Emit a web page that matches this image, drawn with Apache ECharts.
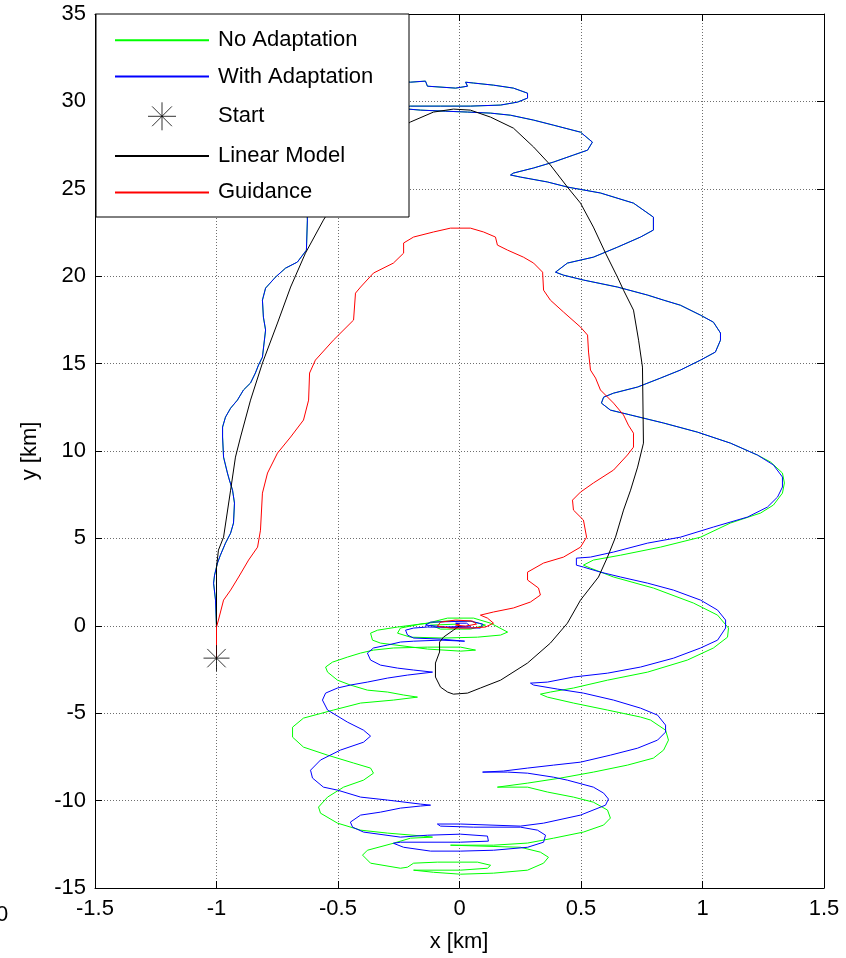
<!DOCTYPE html>
<html><head><meta charset="utf-8">
<script src="https://cdn.jsdelivr.net/npm/echarts@6/dist/echarts.min.js"></script>
<style>html,body{margin:0;padding:0;background:#fff}#c{width:846px;height:958px}</style>
</head><body><div id="c"></div>
<script>
const xTicks = [-1.5, -1, -0.5, 0, 0.5, 1, 1.5];
const yTicks = [-15, -10, -5, 0, 5, 10, 15, 20, 25, 30, 35];
const legendNames = ['No Adaptation', 'With Adaptation', 'Start', 'Linear Model', 'Guidance'];
const xLabel = 'x [km]';
const yLabel = 'y [km]';

const startPoint = [[-1.0, -1.85]];

// path common to both adaptive / non-adaptive runs (green hidden under blue)
const sharedPath = [[-1.000,-1.85],[-1.000,-0.07],[-1.004,1.47],[-1.012,2.44],[-1.008,2.90],[-0.996,3.59],[-0.984,4.04],[-0.963,4.73],[-0.942,5.30],[-0.930,5.88],[-0.926,7.02],[-0.934,7.76],[-0.947,8.34],[-0.955,8.74],[-0.971,9.65],[-0.975,10.80],[-0.975,11.37],[-0.963,11.94],[-0.942,12.45],[-0.914,12.91],[-0.889,13.49],[-0.860,13.89],[-0.840,14.46],[-0.827,14.92],[-0.811,15.37],[-0.798,16.92],[-0.807,17.66],[-0.811,18.63],[-0.798,19.32],[-0.757,19.95],[-0.716,20.46],[-0.667,20.81],[-0.630,21.49],[-0.626,23.21],[-0.630,24.92],[-0.605,27.21],[-0.531,29.50],[-0.407,30.76],[-0.284,31.22],[-0.202,31.10],[-0.140,31.16],[-0.132,30.87],[-0.016,30.76],[0.033,30.87],[0.025,31.10],[0.058,31.05],[0.140,30.93],[0.222,30.76],[0.280,30.47],[0.280,30.19],[0.239,29.96],[0.169,29.79],[0.045,29.73],[-0.078,29.73],[-0.202,29.73],[-0.263,29.62],[-0.160,29.50],[-0.058,29.44],[0.033,29.39],[0.128,29.33],[0.210,29.21],[0.305,28.93],[0.387,28.64],[0.498,28.24],[0.547,27.67],[0.527,27.21],[0.469,26.93],[0.387,26.53],[0.305,26.19],[0.222,25.90],[0.210,25.79],[0.251,25.67],[0.362,25.39],[0.444,25.10],[0.580,24.76],[0.716,24.18],[0.798,23.38],[0.798,22.64],[0.745,22.24],[0.650,21.66],[0.551,21.09],[0.444,20.75],[0.395,20.23],[0.428,20.06],[0.510,19.78],[0.650,19.38],[0.774,18.92],[0.840,18.63],[0.909,18.34],[0.992,17.77],[1.045,17.37],[1.074,16.75],[1.074,16.34],[1.053,15.66],[0.992,15.20],[0.909,14.63],[0.827,14.17],[0.733,13.66],[0.634,13.31],[0.593,13.08],[0.584,12.74],[0.621,12.34],[0.704,12.06],[0.840,11.60],[0.979,11.08],[1.115,10.45],[1.226,9.77]];

const withAdaptationTail = [[1.292,9.20],[1.329,8.51],[1.329,7.94],[1.309,7.37],[1.267,6.79],[1.185,6.22],[1.045,5.65],[0.909,5.07],[0.774,4.73],[0.634,4.22],[0.539,3.93],[0.481,3.87],[0.481,3.47],[0.510,3.36],[0.580,3.07],[0.663,2.79],[0.774,2.44],[0.881,2.04],[0.992,1.47],[1.062,0.90],[1.095,0.33],[1.095,-0.13],[1.062,-0.82],[0.992,-1.27],[0.881,-1.85],[0.745,-2.36],[0.609,-2.71],[0.469,-2.93],[0.362,-3.22],[0.292,-3.28],[0.305,-3.39],[0.403,-3.62],[0.510,-3.85],[0.634,-4.25],[0.745,-4.71],[0.815,-5.11],[0.848,-5.68],[0.848,-6.08],[0.815,-6.54],[0.733,-7.00],[0.621,-7.40],[0.498,-7.80],[0.387,-7.97],[0.280,-8.14],[0.181,-8.31],[0.095,-8.37],[0.198,-8.37],[0.280,-8.43],[0.387,-8.66],[0.444,-8.83],[0.551,-9.23],[0.593,-9.57],[0.613,-9.91],[0.601,-10.26],[0.498,-10.83],[0.346,-11.29],[0.251,-11.46],[0.004,-11.34],[-0.091,-11.34],[-0.078,-11.46],[0.058,-11.52],[0.251,-11.52],[0.321,-11.69],[0.354,-11.98],[0.346,-12.38],[0.280,-12.67],[0.140,-12.84],[0.004,-12.89],[-0.119,-12.89],[-0.230,-12.67],[-0.272,-12.44],[-0.243,-12.38],[0.004,-12.38],[0.119,-12.32],[0.115,-12.03],[0.004,-11.92],[-0.132,-11.98],[-0.243,-12.09],[-0.395,-11.80],[-0.440,-11.52],[-0.449,-11.23],[-0.407,-10.83],[-0.325,-10.66],[-0.243,-10.43],[-0.160,-10.31],[-0.119,-10.26],[-0.160,-10.20],[-0.296,-9.97],[-0.407,-9.80],[-0.502,-9.40],[-0.560,-9.23],[-0.605,-8.71],[-0.613,-8.26],[-0.572,-7.68],[-0.490,-7.11],[-0.395,-6.66],[-0.366,-6.31],[-0.395,-5.97],[-0.461,-5.51],[-0.543,-4.82],[-0.564,-4.25],[-0.551,-3.85],[-0.502,-3.56],[-0.449,-3.39],[-0.379,-3.22],[-0.296,-2.99],[-0.214,-2.82],[-0.111,-2.65],[-0.189,-2.53],[-0.255,-2.42],[-0.325,-2.25],[-0.366,-1.96],[-0.379,-1.56],[-0.354,-1.27],[-0.296,-1.10],[-0.243,-0.93],[-0.189,-0.88],[-0.078,-0.82],[0.021,-0.88],[-0.078,-0.76],[-0.189,-0.70],[-0.214,-0.53],[-0.222,-0.25],[-0.189,-0.13],[-0.132,-0.07],[0.086,-0.13],[0.095,0.10],[0.045,0.27],[-0.119,0.21],[-0.140,0.04],[-0.058,-0.07],[0.045,-0.02],[0.029,0.15],[-0.016,0.15],[0.000,0.10]];

const noAdaptationTail = [[1.280,9.37],[1.329,8.74],[1.337,8.17],[1.329,7.59],[1.292,6.91],[1.239,6.45],[1.115,5.88],[0.992,5.07],[0.827,4.50],[0.663,4.04],[0.551,3.76],[0.510,3.47],[0.539,3.30],[0.634,2.79],[0.798,2.16],[0.963,1.30],[1.062,0.61],[1.107,-0.13],[1.103,-0.65],[1.045,-1.27],[0.938,-1.96],[0.774,-2.65],[0.609,-3.11],[0.469,-3.56],[0.374,-3.79],[0.333,-3.91],[0.362,-4.08],[0.469,-4.42],[0.609,-4.82],[0.745,-5.22],[0.786,-5.39],[0.848,-5.97],[0.860,-6.54],[0.840,-7.11],[0.798,-7.57],[0.691,-7.97],[0.551,-8.37],[0.416,-8.71],[0.280,-9.00],[0.156,-9.23],[0.280,-9.23],[0.362,-9.51],[0.469,-9.80],[0.551,-10.09],[0.609,-10.54],[0.621,-11.00],[0.593,-11.40],[0.510,-11.80],[0.387,-12.15],[0.280,-12.43],[0.140,-12.55],[-0.037,-12.55],[0.251,-12.67],[0.333,-12.95],[0.366,-13.24],[0.346,-13.58],[0.280,-13.98],[0.140,-14.15],[0.004,-14.21],[-0.107,-14.10],[-0.189,-13.98],[0.004,-13.98],[0.115,-13.87],[0.128,-13.70],[0.074,-13.52],[-0.091,-13.52],[-0.189,-13.58],[-0.214,-13.81],[-0.243,-13.87],[-0.366,-13.58],[-0.399,-13.12],[-0.379,-12.84],[-0.272,-12.44],[-0.202,-12.15],[-0.111,-12.09],[-0.148,-12.03],[-0.296,-11.86],[-0.407,-11.69],[-0.502,-11.29],[-0.572,-10.72],[-0.580,-10.37],[-0.543,-9.80],[-0.477,-9.23],[-0.395,-8.83],[-0.354,-8.43],[-0.366,-8.14],[-0.436,-7.85],[-0.543,-7.40],[-0.642,-6.94],[-0.687,-6.37],[-0.687,-5.80],[-0.642,-5.28],[-0.519,-4.82],[-0.407,-4.42],[-0.272,-4.25],[-0.173,-4.08],[-0.230,-3.96],[-0.296,-3.79],[-0.379,-3.68],[-0.449,-3.39],[-0.502,-3.11],[-0.543,-2.65],[-0.551,-2.36],[-0.523,-2.08],[-0.461,-1.79],[-0.407,-1.56],[-0.354,-1.39],[-0.272,-1.27],[-0.132,-1.22],[0.004,-1.22],[0.066,-1.39],[0.004,-1.45],[-0.132,-1.33],[-0.325,-0.99],[-0.358,-0.82],[-0.366,-0.42],[-0.337,-0.25],[-0.255,-0.07],[-0.132,0.15],[-0.049,0.44],[0.058,0.44],[0.128,0.15],[0.198,-0.36],[0.169,-0.53],[0.074,-0.65],[-0.066,-0.70],[-0.202,-0.65],[-0.255,-0.42],[-0.243,-0.13],[-0.160,0.10],[-0.058,0.27],[0.045,0.27],[0.107,0.04],[0.045,-0.19],[-0.078,-0.19],[-0.119,0.04],[0.000,0.10]];

const linearModel = [[-1.000,-1.85],[-1.000,-0.07],[-1.000,3.36],[-0.992,4.33],[-0.971,5.07],[-0.942,7.76],[-0.922,9.65],[-0.901,10.80],[-0.860,12.91],[-0.811,15.03],[-0.749,17.32],[-0.695,19.38],[-0.634,21.32],[-0.560,23.21],[-0.469,25.21],[-0.366,26.93],[-0.263,28.24],[-0.202,28.82],[-0.107,29.39],[-0.025,29.56],[0.045,29.50],[0.128,29.10],[0.222,28.47],[0.305,27.39],[0.374,26.36],[0.444,25.10],[0.498,24.18],[0.551,22.81],[0.601,21.32],[0.650,19.95],[0.675,19.20],[0.716,18.06],[0.737,16.34],[0.753,14.80],[0.757,10.45],[0.733,9.08],[0.704,7.76],[0.675,6.62],[0.642,5.07],[0.609,3.93],[0.572,2.79],[0.498,1.47],[0.444,0.15],[0.374,-0.99],[0.280,-2.13],[0.169,-3.11],[0.086,-3.56],[0.033,-3.85],[-0.025,-3.91],[-0.049,-3.79],[-0.078,-3.51],[-0.099,-2.93],[-0.099,-2.13],[-0.082,-1.50],[-0.082,-0.93],[-0.066,-0.65],[-0.025,-0.25],[0.000,0.00]];

const guidance = [[-1.000,-1.85],[-1.000,-0.07],[-0.992,0.33],[-0.971,1.47],[-0.942,2.04],[-0.909,2.79],[-0.868,3.76],[-0.831,4.50],[-0.819,5.47],[-0.811,7.59],[-0.790,8.74],[-0.749,9.88],[-0.695,10.80],[-0.642,11.77],[-0.621,12.91],[-0.617,14.46],[-0.593,15.20],[-0.519,16.34],[-0.436,17.49],[-0.428,19.03],[-0.407,19.38],[-0.354,20.18],[-0.272,20.75],[-0.230,21.32],[-0.230,21.90],[-0.189,22.24],[-0.107,22.53],[-0.037,22.75],[0.045,22.75],[0.099,22.53],[0.148,22.24],[0.156,21.78],[0.198,21.49],[0.263,21.09],[0.305,20.75],[0.342,20.23],[0.346,19.20],[0.374,18.63],[0.428,17.95],[0.498,17.09],[0.527,16.63],[0.531,15.66],[0.539,14.63],[0.560,14.17],[0.580,13.49],[0.634,12.74],[0.675,12.06],[0.695,11.48],[0.716,11.02],[0.716,10.22],[0.691,9.77],[0.634,8.91],[0.551,8.17],[0.498,7.65],[0.465,7.19],[0.469,6.62],[0.510,6.05],[0.523,5.07],[0.498,4.50],[0.428,3.93],[0.346,3.59],[0.280,3.07],[0.280,2.62],[0.325,2.16],[0.333,1.76],[0.292,1.36],[0.222,1.02],[0.140,0.79],[0.086,0.61],[0.115,0.44],[0.140,0.15],[0.107,-0.07],[0.045,-0.13],[-0.037,-0.13],[-0.091,-0.02],[-0.078,0.21],[-0.016,0.33],[0.053,0.27],[0.070,0.10],[0.025,-0.02],[-0.016,0.04],[0.000,0.10]];

const noAdaptation = sharedPath.concat(noAdaptationTail);
const withAdaptation = sharedPath.concat(withAdaptationTail);

const FONT = '"Liberation Sans", Arial, sans-serif';
const FS = 22;
const chart = echarts.init(document.getElementById('c'), null, {renderer: 'canvas'});

const gridLeft = 95, gridTop = 14, gridW = 729, gridH = 874;

function axisCommon(ticks) {
  return {
    type: 'value',
    min: ticks[0], max: ticks[ticks.length - 1],
    interval: ticks[1] - ticks[0],
    axisLine: {show: true, onZero: false, lineStyle: {color: '#000', width: 1}},
    axisTick: {show: true, inside: true, length: 7, lineStyle: {color: '#000', width: 1}},
  };
}
const hiddenSym = {color: 'transparent', borderColor: 'transparent', borderWidth: 0, opacity: 0};

const option = {
  animation: false,
  backgroundColor: '#fff',
  grid: {left: gridLeft, top: gridTop, width: gridW, height: gridH, containLabel: false},
  xAxis: [
    Object.assign(axisCommon(xTicks), {
      position: 'bottom',
      axisLabel: {show: true, margin: 10, color: '#000', fontSize: FS, fontFamily: FONT,
        formatter: v => String(v)},
      splitLine: {show: true, lineStyle: {color: '#6e6e6e', type: [1, 2], width: 1}}
    }),
    Object.assign(axisCommon(xTicks), {
      position: 'top', axisLabel: {show: false}, splitLine: {show: false}
    })
  ],
  yAxis: [
    Object.assign(axisCommon(yTicks), {
      position: 'left',
      axisLabel: {show: true, margin: 9, color: '#000', fontSize: FS, fontFamily: FONT},
      splitLine: {show: true, lineStyle: {color: '#6e6e6e', type: [1, 2], width: 1}}
    }),
    Object.assign(axisCommon(yTicks), {
      position: 'right', axisLabel: {show: false}, splitLine: {show: false}
    })
  ],
  legend: {
    show: true, orient: 'vertical', left: 96, top: 14, z: 30,
    padding: [15, 0, 0, 18],
    itemWidth: 94, itemHeight: 28, itemGap: 14,
    selectedMode: false,
    textStyle: {color: '#000', fontSize: FS, fontFamily: FONT, padding: [0, 0, 0, 4]},
    data: [
      {name: legendNames[0], itemStyle: hiddenSym},
      {name: legendNames[1], itemStyle: hiddenSym},
      {name: legendNames[2], itemStyle: {color: 'transparent', borderColor: '#000', borderWidth: 1}},
      {name: legendNames[3], itemStyle: hiddenSym},
      {name: legendNames[4], itemStyle: hiddenSym}
    ]
  },
  graphic: [
    {type: 'rect', z: 20, shape: {x: 96, y: 14, width: 313, height: 203},
      style: {fill: '#fff', stroke: '#000', lineWidth: 1}},
    {type: 'text', z: 20, x: 459, y: 942, style: {text: xLabel, font: FS + 'px ' + FONT, fill: '#000', textAlign: 'center', textVerticalAlign: 'middle'}},
    {type: 'text', z: 20, x: 30, y: 451, rotation: Math.PI / 2, style: {text: yLabel, font: FS + 'px ' + FONT, fill: '#000', textAlign: 'center', textVerticalAlign: 'middle'}},
    {type: 'text', z: 20, x: -4, y: 915, style: {text: '0', font: FS + 'px ' + FONT, fill: '#000', textAlign: 'left', textVerticalAlign: 'middle'}}
  ],
  series: [
    {name: legendNames[0], type: 'line', data: noAdaptation, symbol: 'none', clip: true,
      lineStyle: {color: '#00ff00', width: 1}, itemStyle: {color: '#00ff00'}, z: 2},
    {name: legendNames[1], type: 'line', data: withAdaptation, symbol: 'none', clip: true,
      lineStyle: {color: '#0000ff', width: 1}, itemStyle: {color: '#0000ff'}, z: 3},
    {name: legendNames[3], type: 'line', data: linearModel, symbol: 'none', clip: true,
      lineStyle: {color: '#000000', width: 1}, itemStyle: {color: '#000000'}, z: 4},
    {name: legendNames[4], type: 'line', data: guidance, symbol: 'none', clip: true,
      lineStyle: {color: '#ff0000', width: 1}, itemStyle: {color: '#ff0000'}, z: 5},
    {name: legendNames[2], type: 'scatter', data: startPoint, z: 6,
      symbol: 'path://M0 -10 L0 10 M-10 0 L10 0 M-7.07 -7.07 L7.07 7.07 M-7.07 7.07 L7.07 -7.07',
      symbolSize: 26, symbolKeepAspect: true,
      itemStyle: {color: 'transparent', borderColor: '#000', borderWidth: 1}}
  ]
};
chart.setOption(option);
</script></body></html>
